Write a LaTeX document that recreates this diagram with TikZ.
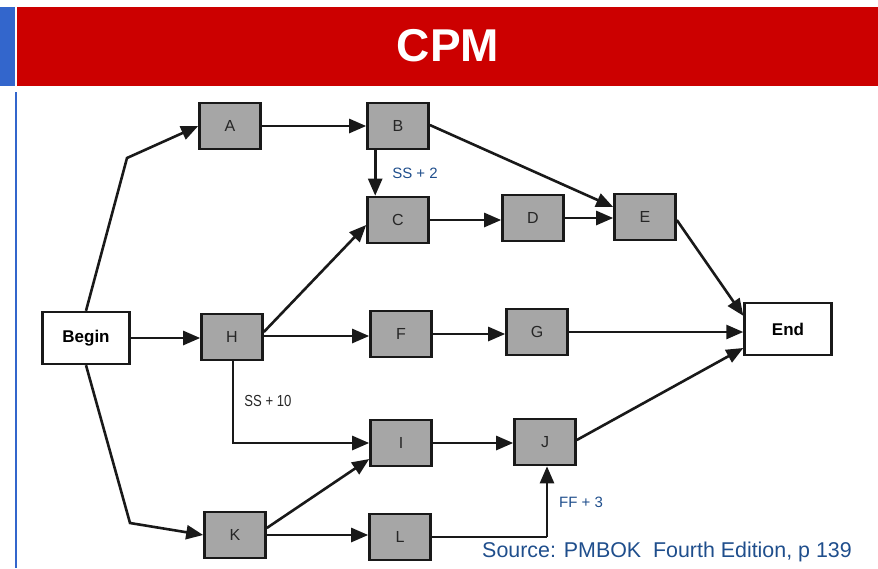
\documentclass[tikz,border=0pt]{standalone}
\usepackage{fontspec}
\setmainfont{Liberation Sans}
\usetikzlibrary{arrows.meta,calc}
\definecolor{barred}{HTML}{CC0000}
\definecolor{barblue}{HTML}{3366CC}
\definecolor{notblue}{HTML}{1F4E8C}
\definecolor{boxgray}{HTML}{A6A6A6}
\tikzset{
  act/.style={draw=black!90, line width=2.6pt, fill=boxgray, minimum width=61pt,
    minimum height=46pt, inner sep=0pt, text=black!85,
    font=\fontsize{16}{16}\selectfont},
  term/.style={draw=black!90, line width=2.4pt, fill=white, minimum width=87pt,
    minimum height=52pt, inner sep=0pt,
    font=\fontsize{17}{17}\selectfont\bfseries},
  link/.style={line width=2.6pt, draw=black!90,
    -{Triangle[length=17pt,width=14pt]}},
  lag/.style={text=notblue, font=\fontsize{15}{15}\selectfont},
}
\begin{document}
\begin{tikzpicture}[x=1pt,y=-1pt]
\useasboundingbox (0,0) rectangle (878,568);
% header bar
\fill[barblue] (0,7) rectangle (15,86);
\fill[barred] (17,7) rectangle (878,86);
\node[text=white, font=\fontsize{46}{46}\selectfont\bfseries] (title) at (448,46) {CPM};
\fill[barblue] (15,92) rectangle (17,568);

% activities
\node[term] (begin) at (86,338) {Begin};
\node[term] (end) at (788,329) {End};
\node[act] (A) at (230,126) {A};
\node[act] (B) at (398,126) {B};
\node[act] (C) at (398,220) {C};
\node[act] (D) at (533,218) {D};
\node[act] (E) at (645,217) {E};
\node[act] (H) at (232,337) {H};
\node[act] (F) at (401,334) {F};
\node[act] (G) at (537,332) {G};
\node[act] (I) at (401,443) {I};
\node[act] (J) at (545,442) {J};
\node[act] (K) at (235,535) {K};
\node[act] (L) at (400,537) {L};

% bend points and link ends
\coordinate (ba) at (127,158);
\coordinate (bk) at (130,523);
\coordinate (hi) at (233,443);
\coordinate (lj) at (547,537);
\coordinate (hf) at ($(H.east)+(0,-1)$);

% links
\draw[link] (begin.north) -- (ba) -- (A.west);
\draw[link] (begin.east) -- (begin.east -| H.west);
\draw[link] (begin.south) -- (bk) -- (K.west);
\draw[link] (A.east) -- (B.west);
\draw[link] ($(B.south west)+(9,0)$) -- ($(C.north west)+(9,0)$);
\draw[link] ($(B.east)+(0,-1)$) -- ($(E.west)+(0,-10)$);
\draw[link] (C.east) -- (C.east -| D.west);
\draw[link] (D.east) -- (D.east -| E.west);
\draw[link] ($(H.east)+(0,-5)$) -- ($(C.west)+(0,5)$);
\draw[link] (hf) -- (hf -| F.west);
\draw[link] (F.east) -- (F.east -| G.west);
\draw[link] (G.east) -- (G.east -| end.west);
\draw[link] ($(E.east)+(0,3)$) -- ($(end.north west)+(0,14)$);
\draw[link] ($(J.east)+(0,-2)$) -- ($(end.west)+(0,19)$);
\draw[link] (H.south -| hi) -- (hi) -- (I.west);
\draw[link] ($(K.east)+(0,-7)$) -- ($(I.west)+(0,16)$);
\draw[link] (K.east) -- (K.east -| L.west);
\draw[link] (I.east) -- (I.east -| J.west);
\draw[line width=2.6pt, draw=black!90] (L.east) -- (lj);
\draw[link] (lj) -- (lj |- J.south);

% lag labels
\node[lag] (ss2) at (415,173) {SS + 2};
\node[text=black!85, font=\fontsize{16}{16}\selectfont, xscale=0.82] (ss10) at (268,401) {SS + 10};
\node[lag] (ff3) at (581,502) {FF + 3};
\node[text=notblue, font=\fontsize{21.4}{21.4}\selectfont] (src) at (667,552) {Source: PMBOK\ \ Fourth Edition, p 139};
\end{tikzpicture}
\end{document}
